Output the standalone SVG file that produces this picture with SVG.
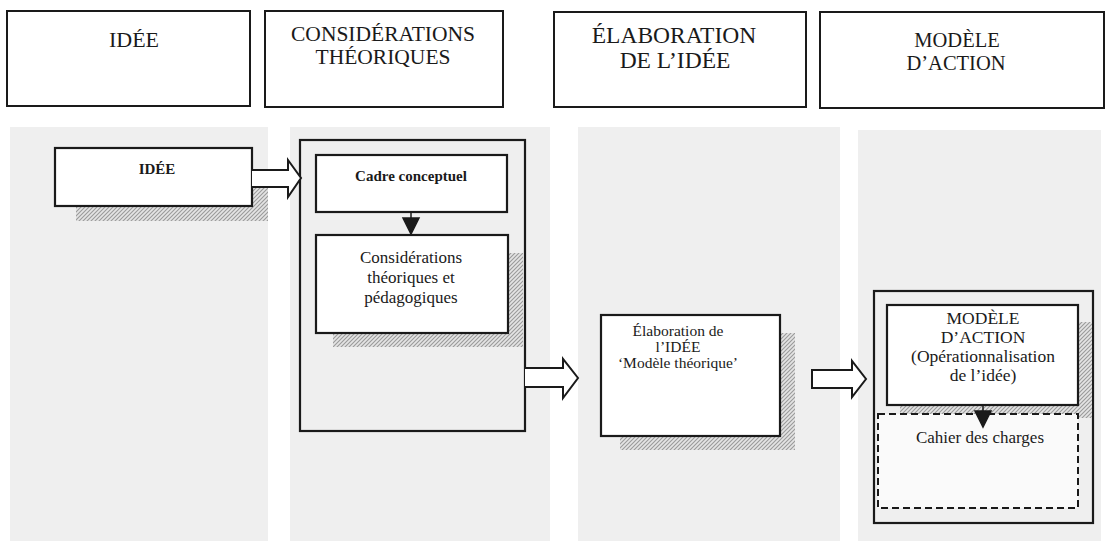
<svg xmlns="http://www.w3.org/2000/svg" width="1107" height="549" viewBox="0 0 1107 549">
  <defs>
    <pattern id="hatch" patternUnits="userSpaceOnUse" width="4" height="4">
      <rect width="4" height="4" fill="#e4e4e4"/>
      <path d="M-1,1 l2,-2 M0,4 l4,-4 M3,5 l2,-2" stroke="#9a9a9a" stroke-width="1.1"/>
    </pattern>
  </defs>
  <style>
    .hdr { fill: #ffffff; stroke: #1a1a1a; stroke-width: 2; }
    .htxt { font-family: "Liberation Serif", "Times New Roman", serif; font-size: 22px; fill: #1a1a1a; text-anchor: middle; }
    .col { fill: #efefef; }
    .box { fill: #ffffff; stroke: #1a1a1a; stroke-width: 2.2; }
    .frame { fill: none; stroke: #1a1a1a; stroke-width: 2.2; }
    .dash { fill: #fafafa; stroke: #1a1a1a; stroke-width: 2; stroke-dasharray: 7 4; }
    .ntxt { font-family: "Liberation Serif", "Times New Roman", serif; font-size: 15.5px; fill: #1a1a1a; text-anchor: middle; }
    .big { font-size: 17px; }
    .bigger { font-size: 17.5px; }
    .bold { font-weight: bold; font-size: 15px; }
    .shadow { fill: url(#hatch); }
    .fat { fill: #ffffff; stroke: #1a1a1a; stroke-width: 2; stroke-linejoin: miter; }
    .solid { fill: #1a1a1a; stroke: #1a1a1a; stroke-width: 1.5; }
  </style>

  <rect width="1107" height="549" fill="#ffffff"/>

  <!-- stage headers -->
  <g id="header-idee">
    <rect class="hdr" x="7" y="11" width="243" height="95"/>
    <text class="htxt" x="134" y="47">IDÉE</text>
  </g>
  <g id="header-considerations">
    <rect class="hdr" x="265" y="11" width="238" height="96"/>
    <text class="htxt" x="383" y="41" style="font-size:21.5px">CONSIDÉRATIONS</text>
    <text class="htxt" x="383" y="64" style="font-size:21.5px">THÉORIQUES</text>
  </g>
  <g id="header-elaboration">
    <rect class="hdr" x="554" y="12" width="252" height="95"/>
    <text class="htxt" x="674" y="43" style="font-size:23.5px">ÉLABORATION</text>
    <text class="htxt" x="675" y="68" style="font-size:23.5px">DE L’IDÉE</text>
  </g>
  <g id="header-modele">
    <rect class="hdr" x="820" y="12" width="284" height="96"/>
    <text class="htxt" x="957" y="47" style="font-size:20.5px">MODÈLE</text>
    <text class="htxt" x="956" y="70" style="font-size:20.5px">D’ACTION</text>
  </g>

  <!-- column backgrounds -->
  <g id="columns">
    <rect class="col" x="10" y="127" width="258" height="414"/>
    <rect class="col" x="290" y="127" width="260" height="414"/>
    <rect class="col" x="578" y="127" width="262" height="414"/>
    <rect class="col" x="858" y="130" width="243" height="411"/>
  </g>

  <!-- column 1 -->
  <g id="node-idee">
    <path class="shadow" d="M76,206 H252 V186 H268 V221 H76 Z"/>
    <rect class="box" x="55" y="148" width="197" height="58"/>
    <text class="ntxt bold" x="157" y="174">IDÉE</text>
  </g>

  <!-- column 2 -->
  <g id="frame-considerations">
    <rect class="frame" x="300" y="140" width="225" height="291"/>
  </g>
  <g id="node-cadre">
    <rect class="box" x="316" y="155" width="191" height="57"/>
    <text class="ntxt bold" x="411" y="181">Cadre conceptuel</text>
  </g>
  <g id="node-considerations">
    <path class="shadow" d="M333,333 H508 V253 H523 V347 H333 Z"/>
    <rect class="box" x="316" y="235" width="192" height="98"/>
    <text class="ntxt big" x="411" y="263">Considérations</text>
    <text class="ntxt big" x="411" y="283">théoriques et</text>
    <text class="ntxt big" x="411" y="303">pédagogiques</text>
  </g>

  <!-- column 3 -->
  <g id="node-elaboration">
    <path class="shadow" d="M620,436 H780 V333 H795 V450 H620 Z"/>
    <rect class="box" x="601" y="315" width="179" height="121"/>
    <text class="ntxt" x="678" y="336">Élaboration de</text>
    <text class="ntxt" x="678" y="352">l’IDÉE</text>
    <text class="ntxt" x="678" y="368">‘Modèle théorique’</text>
  </g>

  <!-- column 4 -->
  <g id="frame-modele">
    <rect class="frame" x="874" y="291" width="219" height="232"/>
  </g>
  <g id="node-modele">
    <path class="shadow" d="M900,405 H1078 V322 H1092 V418 H900 Z"/>
    <rect class="box" x="887" y="305" width="191" height="100"/>
    <text class="ntxt bigger" x="983" y="324">MODÈLE</text>
    <text class="ntxt bigger" x="983" y="343">D’ACTION</text>
    <text class="ntxt bigger" x="983" y="362">(Opérationnalisation</text>
    <text class="ntxt bigger" x="983" y="381">de l’idée)</text>
  </g>
  <g id="node-cahier">
    <rect class="dash" x="878" y="414" width="200" height="94"/>
    <text class="ntxt big" x="980" y="443">Cahier des charges</text>
  </g>

  <!-- connectors -->
  <g id="connectors">
    <path class="fat" d="M252,170 H288 V160 L301,178 L288,197 V187 H252"/>
    <path class="fat" d="M525,368 H563 V359 L578,378 L563,398 V387 H525"/>
    <path class="fat" d="M812,370 H852 V361 L866,379 L852,397 V388 H812 Z"/>
    <path class="solid" d="M411,212 V219"/>
    <path class="solid" d="M403,218 H419 L411,234 Z"/>
    <path class="solid" d="M983,405 V412"/>
    <path class="solid" d="M975,411 H991 L983,427 Z"/>
  </g>
</svg>
